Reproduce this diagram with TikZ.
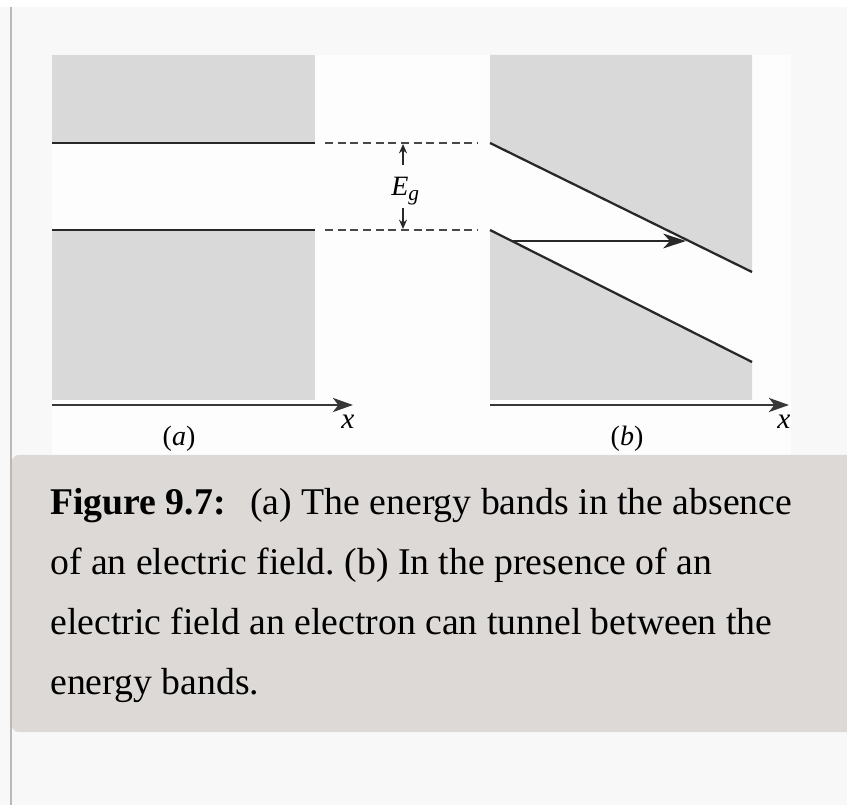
\documentclass[tikz,border=0pt]{standalone}
\usepackage{fontspec}
\setmainfont{Liberation Serif}
\usetikzlibrary{arrows.meta}
\definecolor{pagebg}{RGB}{248,248,248}
\definecolor{imgbg}{RGB}{253,253,253}
\definecolor{barcol}{RGB}{189,184,181}
\definecolor{bandgray}{RGB}{216,217,216}
\definecolor{capbg}{RGB}{220,217,214}
\definecolor{linecol}{RGB}{40,40,40}
\definecolor{axiscol}{RGB}{55,55,55}
\tikzset{
  bandline/.style={draw=linecol, line width=1.7pt},
  gapdash/.style={draw=linecol!85, line width=1.7pt, dash pattern=on 6pt off 3.5pt},
  axisline/.style={draw=axiscol, line width=2.2pt, -{Stealth[length=15pt,width=10.5pt,inset=4pt]}},
  egarrow/.style={draw=linecol, line width=1.3pt, -{Stealth[length=7pt,width=6pt]}},
  tunnel/.style={draw=linecol, line width=2.2pt, -{Stealth[length=17pt,width=11pt,inset=5pt]}},
  axlabel/.style={font=\fontsize{22pt}{22pt}\selectfont\itshape, inner sep=0pt},
  panlabel/.style={font=\fontsize{21pt}{21pt}\selectfont, inner sep=0pt},
  capline/.style={font=\fontsize{28.3pt}{34pt}\selectfont, anchor=base west, inner sep=0pt, text=black}
}
\frenchspacing
\begin{document}
\begin{tikzpicture}[x=0.75pt,y=-0.75pt]
\useasboundingbox (0,0) rectangle (847,805);
\fill[pagebg] (0,0) rectangle (847,805);
\fill[white] (0,0) rectangle (847,7);
\fill[barcol] (10,7) rectangle (12,805);
\fill[imgbg] (52,55) rectangle (791,455);
% panel (a)
\fill[bandgray] (52,55) rectangle (315,143);
\fill[bandgray] (52,230) rectangle (315,400);
\coordinate (aup0) at (52,143);
\coordinate (aup1) at (315,143);
\coordinate (alo0) at (52,230);
\coordinate (alo1) at (315,230);
\coordinate (dup1) at (478,143);
\coordinate (dlo1) at (478,230);
\draw[bandline] (aup0) -- (aup1);
\draw[bandline] (alo0) -- (alo1);
\draw[gapdash] (325,143) -- (dup1);
\draw[gapdash] (325,230) -- (dlo1);
% Eg
\coordinate (egtop) at (403,144);
\coordinate (egbot) at (403,229);
\draw[egarrow] (403,165) -- (egtop);
\draw[egarrow] (403,208) -- (egbot);
\node[inner sep=0pt, anchor=base west, font=\fontsize{21pt}{21pt}\selectfont\itshape] (eg) at (391,196) {E\raisebox{-0.35ex}{\fontsize{16pt}{16pt}\selectfont g}};
% axis (a)
\coordinate (ax0) at (52,405);
\coordinate (ax1) at (353,405);
\draw[axisline] (ax0) -- (ax1);
\node[axlabel] (xa) at (348,422) {x};
\node[panlabel] (la) at (179,439) {(\textit{a})};
% panel (b)
\coordinate (bup0) at (490,143);
\coordinate (bup1) at (752,272);
\coordinate (blo0) at (490,230);
\coordinate (blo1) at (752,362);
\fill[bandgray] (490,55) -- (752,55) -- (bup1) -- (bup0) -- cycle;
\fill[bandgray] (blo0) -- (blo1) -- (752,400) -- (490,400) -- cycle;
\draw[bandline] (bup0) -- (bup1);
\draw[bandline] (blo0) -- (blo1);
\coordinate (tun0) at (512,241);
\coordinate (tun1) at (686,241);
\draw[tunnel] (tun0) -- (tun1);
\coordinate (bx0) at (490,405);
\coordinate (bx1) at (789,405);
\draw[axisline] (bx0) -- (bx1);
\node[axlabel] (xb) at (784,422) {x};
\node[panlabel] (lb) at (627,439) {(\textit{b})};
% caption
\fill[capbg] (847,455) {[rounded corners=5] -- (12,455) -- (12,732)} -- (847,732) -- cycle;
\node[capline] (cap1) at (50,515) {\textbf{Figure 9.7:}\hspace{18.5pt}(a) The energy bands in the absence};
\node[capline] (cap2) at (50,575) {of an electric field. (b) In the presence of an};
\node[capline] (cap3) at (50,635) {electric field an electron can tunnel between the};
\node[capline] (cap4) at (50,695) {energy bands.};
\end{tikzpicture}
\end{document}
